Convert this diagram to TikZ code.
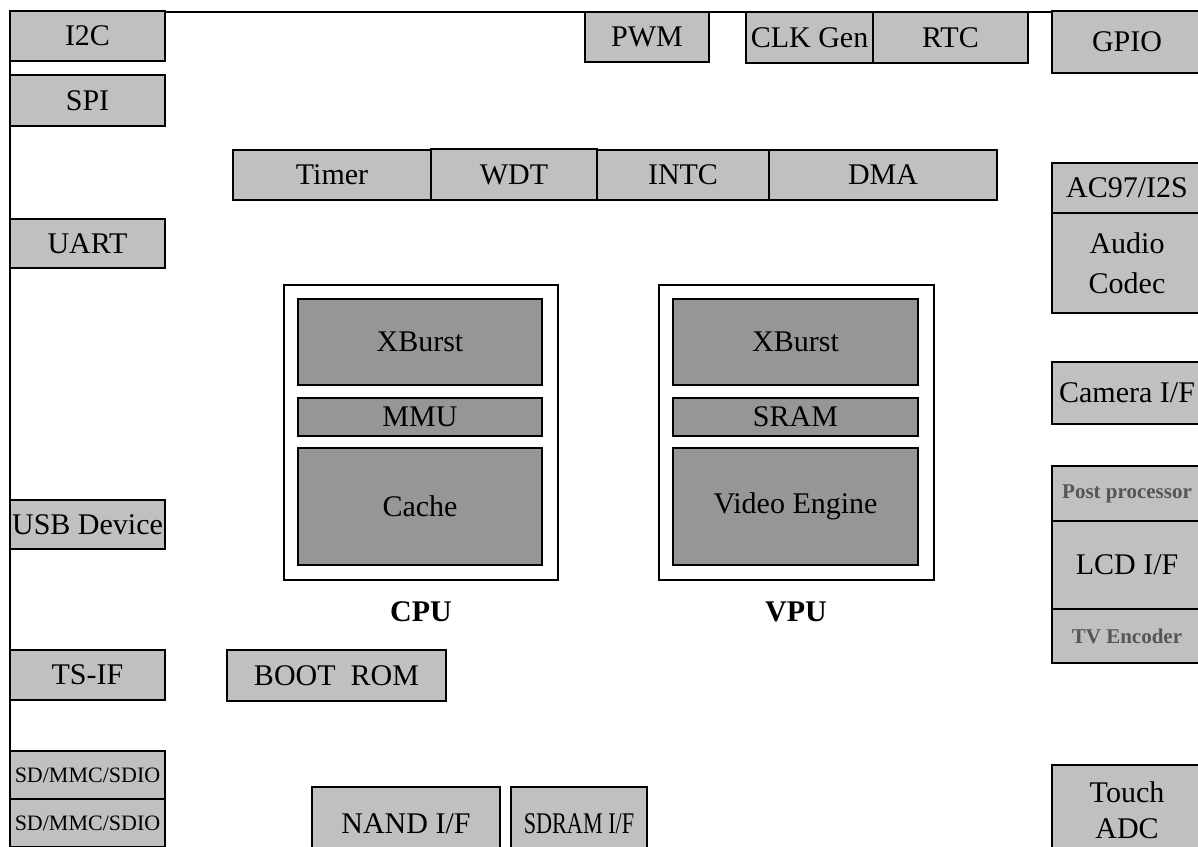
\documentclass[tikz,border=0pt]{standalone}
\usepackage{fontspec}
\setmainfont{Liberation Serif}
\definecolor{lgray}{HTML}{C0C0C0}
\definecolor{dgray}{HTML}{969696}
\definecolor{tgray}{HTML}{555555}
\begin{document}
\begin{tikzpicture}[x=1pt,y=-1pt,
  blk/.style={draw=black, line width=1.3pt, fill=lgray, anchor=north west, inner sep=0pt, outer sep=0pt,
     align=center, font=\fontsize{30}{40}\selectfont},
  core/.style={blk, fill=dgray},
  frame/.style={draw=black, line width=1.3pt, fill=white, anchor=north west, inner sep=0pt, outer sep=0pt},
  small/.style={font=\fontsize{22}{26}\selectfont},
  tiny/.style={font=\fontsize{21}{24}\selectfont\bfseries, text=tgray},
  lbl/.style={font=\fontsize{30}{36}\selectfont\bfseries, inner sep=0pt},
  bus/.style={draw=black, line width=1.3pt}
]
\useasboundingbox (0,0) rectangle (1198,846);
\fill[white] (0,0) rectangle (1198,846);
% bus frame
\coordinate (fbl) at (10,860);
\coordinate (ftr) at (1052,12);
\draw[bus] (fbl) |- (ftr);
% left column
\node[blk, minimum width=155pt, minimum height=50pt] (i2c) at (10,11) {I2C};
\node[blk, minimum width=155pt, minimum height=51pt] (spi) at (10,75) {SPI};
\node[blk, minimum width=155pt, minimum height=49pt] (uart) at (10,219) {UART};
\node[blk, minimum width=155pt, minimum height=49pt] (usb) at (10,500) {USB Device};
\node[blk, minimum width=155pt, minimum height=50pt] (tsif) at (10,650) {TS-IF};
\node[blk, small, minimum width=155pt, minimum height=48pt] (sd1) at (10,751) {SD/MMC/SDIO};
\node[blk, small, minimum width=155pt, minimum height=48pt] (sd2) at (10,799) {SD/MMC/SDIO};
% top row
\node[blk, minimum width=124pt, minimum height=50pt] (pwm) at (585,12) {PWM};
\node[blk, minimum width=127pt, minimum height=51pt] (clk) at (746,12) {CLK Gen};
\node[blk, minimum width=155pt, minimum height=51pt] (rtc) at (873,12) {RTC};
\node[blk, minimum width=150pt, minimum height=62pt] (gpio) at (1052,11) {GPIO};
% timer row
\node[blk, minimum width=198pt, minimum height=50pt] (timer) at (233,150) {Timer};
\node[blk, minimum width=166pt, minimum height=51pt] (wdt) at (431,149) {WDT};
\node[blk, minimum width=172pt, minimum height=50pt] (intc) at (597,150) {INTC};
\node[blk, minimum width=228pt, minimum height=50pt] (dma) at (769,150) {DMA};
% right column
\node[blk, minimum width=150pt, minimum height=50pt] (ac97) at (1052,163) {AC97/I2S};
\node[blk, minimum width=150pt, minimum height=100pt] (audio) at (1052,213) {Audio\\Codec};
\node[blk, minimum width=150pt, minimum height=62pt] (cam) at (1052,362) {Camera I/F};
\node[blk, tiny, minimum width=150pt, minimum height=55pt] (post) at (1052,466) {Post processor};
\node[blk, minimum width=150pt, minimum height=88pt] (lcd) at (1052,521) {LCD I/F};
\node[blk, tiny, minimum width=150pt, minimum height=54pt] (tv) at (1052,609) {TV Encoder};
\node[blk, font=\fontsize{30}{36}\selectfont, minimum width=150pt, minimum height=90pt] (touch) at (1052,765) {Touch\\ADC};
% bottom
\node[blk, minimum width=219pt, minimum height=51pt] (boot) at (227,650) {BOOT\ \ ROM};
\node[blk, minimum width=188pt, minimum height=74pt] (nand) at (312,787) {NAND I/F};
\node[blk, minimum width=136pt, minimum height=74pt] (sdram) at (511,787) {\scalebox{0.74}[1]{SDRAM I/F}};
% CPU
\node[frame, minimum width=274pt, minimum height=295pt] (cpu) at (284,285) {};
\node[core, minimum width=244pt, minimum height=86pt] (xb1) at (298,299) {XBurst};
\node[core, minimum width=244pt, minimum height=38pt] (mmu) at (298,398) {MMU};
\node[core, minimum width=244pt, minimum height=117pt] (cache) at (298,448) {Cache};
\node[lbl] (cpulbl) at (421,612) {CPU};
% VPU
\node[frame, minimum width=275pt, minimum height=295pt] (vpu) at (659,285) {};
\node[core, minimum width=245pt, minimum height=86pt] (xb2) at (673,299) {XBurst};
\node[core, minimum width=245pt, minimum height=38pt] (sram) at (673,398) {SRAM};
\node[core, minimum width=245pt, minimum height=117pt] (video) at (673,448) {Video Engine};
\node[lbl] (vpulbl) at (796,612) {VPU};
\end{tikzpicture}
\end{document}
